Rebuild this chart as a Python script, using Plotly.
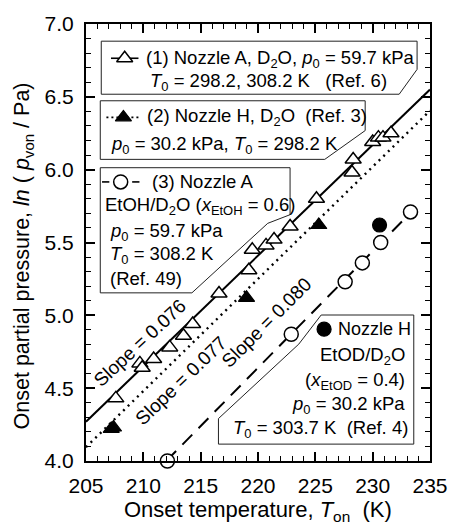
import plotly.graph_objects as go

# ---- data ---------------------------------------------------------------
# (1) Nozzle A, D2O  (open triangles)
t_nozA_d2o = [207.6, 209.7, 209.9, 210.9, 212.3, 213.5, 214.3, 216.6, 219.2, 219.5,
              220.7, 221.4, 222.8, 225.1, 228.2, 228.3, 230.0, 230.5, 230.9, 231.6]
lnp_nozA_d2o = [4.43, 4.67, 4.64, 4.70, 4.78, 4.86, 4.94, 5.15, 5.31, 5.45,
                5.48, 5.52, 5.61, 5.80, 5.98, 6.07, 6.19, 6.22, 6.22, 6.25]

# (2) Nozzle H, D2O  (filled triangles)
t_nozH_d2o = [207.2, 207.4, 219.0, 225.3]
lnp_nozH_d2o = [4.22, 4.23, 5.12, 5.62]

# (3) Nozzle A, EtOH/D2O  (open circles)
t_nozA_etoh = [212.1, 222.9, 227.6, 229.1, 230.7, 233.3]
lnp_nozA_etoh = [4.00, 4.87, 5.23, 5.36, 5.50, 5.71]

# Nozzle H, EtOD/D2O  (filled circle)
t_nozH_etod = [230.6]
lnp_nozH_etod = [5.62]

# linear fits: slope, reference temperature, value at that temperature, T-range
fit_solid = dict(slope=0.076, t_ref=205.0, y_ref=4.27, t_range=(205.0, 235.0))
fit_dot = dict(slope=0.077, t_ref=205.0, y_ref=4.095, t_range=(205.0, 235.0))
fit_dash = dict(slope=0.080, t_ref=212.0, y_ref=4.00, t_range=(212.0, 233.3))

x_ticks = [205, 210, 215, 220, 225, 230, 235]
y_ticks = [4.0, 4.5, 5.0, 5.5, 6.0, 6.5, 7.0]

# ---- layout geometry (pixels) -------------------------------------------
W, H = 460, 527
L, R, T, B = 86, 20, 21, 66
X0, X1 = 205.0, 235.0
Y0, Y1 = 4.0, 7.0
PW, PH = W - L - R, H - T - B
FONT = "Liberation Sans, Arial, Helvetica, sans-serif"
LEG_SIZE = 18.5


def px2x(px):
    return X0 + (px - L) / PW * (X1 - X0)


def py2y(py):
    return Y1 - (py - T) / PH * (Y1 - Y0)


def fit_line(f):
    ta, tb = f["t_range"]
    ya = f["y_ref"] + f["slope"] * (ta - f["t_ref"])
    yb = f["y_ref"] + f["slope"] * (tb - f["t_ref"])
    return [ta, tb], [ya, yb]


fig = go.Figure()

# fit lines
for f, dash, lw in [(fit_solid, "solid", 2), (fit_dot, "2px,4.5px", 2.4), (fit_dash, "14px,9px", 2)]:
    xs, ys = fit_line(f)
    fig.add_trace(go.Scatter(x=xs, y=ys, mode="lines",
                             line=dict(color="black", width=lw, dash=dash),
                             showlegend=False, hoverinfo="skip"))

MS = 14
open_tri = dict(symbol="triangle-up", size=MS, color="white", line=dict(color="black", width=1.5))
fill_tri = dict(symbol="triangle-up", size=MS, color="black", line=dict(color="black", width=1.2))
open_circ = dict(symbol="circle", size=MS, color="white", line=dict(color="black", width=1.5))
fill_circ = dict(symbol="circle", size=MS, color="black", line=dict(color="black", width=1.2))

fig.add_trace(go.Scatter(x=t_nozA_d2o, y=lnp_nozA_d2o, mode="markers", marker=open_tri,
                         showlegend=False, cliponaxis=False))
fig.add_trace(go.Scatter(x=t_nozH_d2o, y=lnp_nozH_d2o, mode="markers", marker=fill_tri,
                         showlegend=False, cliponaxis=False))
fig.add_trace(go.Scatter(x=t_nozA_etoh, y=lnp_nozA_etoh, mode="markers", marker=open_circ,
                         showlegend=False, cliponaxis=False))
fig.add_trace(go.Scatter(x=t_nozH_etod, y=lnp_nozH_etod, mode="markers", marker=fill_circ,
                         showlegend=False, cliponaxis=False))

# ---- legend boxes ---------------------------------------------------------
def poly(points):
    d = "M " + " L ".join(f"{px2x(px)},{py2y(py)}" for px, py in points) + " Z"
    return dict(type="path", path=d, xref="x", yref="y",
                line=dict(color="#222", width=1), fillcolor="white", layer="below")


boxes = [
    [(101.7, 38.3), (426.7, 38.3), (426.7, 66.7), (408.3, 91.7), (101.7, 91.7)],
    [(100.7, 98.3), (373.3, 98.3), (373.3, 128.3), (331.7, 157.3), (100.7, 157.3)],
    [(100.7, 165.7), (296.0, 165.7), (296.0, 213.0), (273.0, 221.7), (195.0, 291.7), (100.7, 291.7)],
    [(328.0, 314.0), (423.3, 314.0), (423.3, 444.0), (222.3, 444.0), (222.3, 418.3), (305.0, 343.3)],
]
shapes = [poly(b) for b in boxes]

annotations = []


def ann(px, py, text, anchor="left", size=LEG_SIZE, angle=0):
    annotations.append(dict(x=px2x(px), y=py2y(py), xref="x", yref="y", text=text,
                            showarrow=False, xanchor=anchor, yanchor="middle",
                            textangle=angle, font=dict(size=size, color="black", family=FONT)))


# legend samples (line pieces + marker) drawn inside the boxes
def sample(segments, py, dash, marker_px, marker):
    for px_a, px_b in segments:
        fig.add_trace(go.Scatter(x=[px2x(px_a), px2x(px_b)], y=[py2y(py)] * 2, mode="lines",
                                 line=dict(color="black", width=1.6, dash=dash),
                                 showlegend=False, hoverinfo="skip", cliponaxis=False))
    fig.add_trace(go.Scatter(x=[px2x(marker_px)], y=[py2y(py)], mode="markers",
                             marker=marker, showlegend=False, hoverinfo="skip", cliponaxis=False))


sample([(111.7, 140.0)], 55.5, "solid", 125.8, open_tri)
sample([(107.0, 142.0)], 115.0, "2px,3px", 124.5, fill_tri)
sample([(102.5, 110.0), (133.5, 141.0)], 180.0, "solid", 121.7, open_circ)
fig.add_trace(go.Scatter(x=[px2x(331.0)], y=[py2y(328.3)], mode="markers", marker=fill_circ,
                         showlegend=False, hoverinfo="skip", cliponaxis=False))

ann(146, 56, "(1) Nozzle A, D<sub>2</sub>O, <i>p</i><sub>0</sub> = 59.7 kPa")
ann(150, 79, "<i>T</i><sub>0</sub> = 298.2, 308.2 K   (Ref. 6)")
ann(147, 115, "(2) Nozzle H, D<sub>2</sub>O  (Ref. 3)")
ann(110, 143, "<i>p</i><sub>0</sub> = 30.2 kPa, <i>T</i><sub>0</sub> = 298.2 K")
ann(151.7, 180, "(3) Nozzle A")
ann(103.3, 204, "EtOH/D<sub>2</sub>O (<i>x</i><sub>EtOH</sub> = 0.6)")
ann(108.3, 230, "<i>p</i><sub>0</sub> = 59.7 kPa")
ann(108.3, 254, "<i>T</i><sub>0</sub> = 308.2 K")
ann(108.3, 277, "(Ref. 49)")
ann(343, 328.3, "Nozzle H", size=18)
ann(416, 355, "EtOD/D<sub>2</sub>O", anchor="right")
ann(416, 380, "(<i>x</i><sub>EtOD</sub> = 0.4)", anchor="right")
ann(416, 405, "<i>p</i><sub>0</sub> = 30.2 kPa", anchor="right")
ann(419, 429, "<i>T</i><sub>0</sub> = 303.7 K  (Ref. 4)", anchor="right")

# slope labels
ann(142, 342, f"Slope = {fit_solid['slope']:.3f}", anchor="center", size=19, angle=-43)
ann(184, 380, f"Slope = {fit_dot['slope']:.3f}", anchor="center", size=19, angle=-44)
ann(272, 322, f"Slope = {fit_dash['slope']:.3f}", anchor="center", size=19, angle=-45)

# axis titles
annotations.append(dict(x=(263 - L) / PW, y=-(511 - (T + PH)) / PH, xref="paper", yref="paper",
                        text="Onset temperature, <i>T</i><sub>on</sub>  (K)", showarrow=False,
                        xanchor="center", yanchor="middle",
                        font=dict(size=22, color="black", family=FONT)))
annotations.append(dict(x=-(L - 22) / PW, y=0.47, xref="paper", yref="paper",
                        text="Onset partial pressure, <i>ln</i> ( <i>p</i><sub>von</sub> / Pa)",
                        showarrow=False, textangle=-90, xanchor="center", yanchor="middle",
                        font=dict(size=21.5, color="black", family=FONT)))

axis_common = dict(showgrid=False, zeroline=False, showline=True, linecolor="black", linewidth=2,
                   mirror="allticks", ticks="inside", ticklen=9, tickwidth=1.5, tickcolor="black",
                   tickfont=dict(size=21, color="black", family=FONT))

fig.update_layout(
    width=W, height=H,
    margin=dict(l=L, r=R, t=T, b=B, pad=0),
    paper_bgcolor="white", plot_bgcolor="white",
    shapes=shapes, annotations=annotations,
    xaxis=dict(range=[X0, X1], tickvals=x_ticks, ticktext=[str(v) for v in x_ticks],
               minor=dict(dtick=1, ticks="inside", ticklen=5, tickwidth=1.2, tickcolor="black"),
               ticklabelstandoff=5, **axis_common),
    yaxis=dict(range=[Y0, Y1], tickvals=y_ticks, ticktext=[f"{v:.1f}" for v in y_ticks],
               minor=dict(dtick=0.1, ticks="inside", ticklen=5, tickwidth=1.2, tickcolor="black"),
               ticklabelstandoff=6, **axis_common),
    showlegend=False,
)

fig.write_html("out.html")
